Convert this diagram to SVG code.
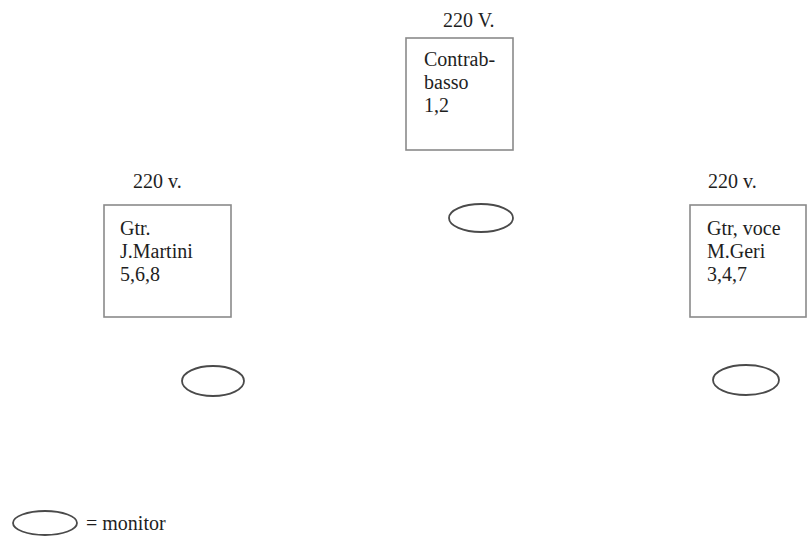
<svg xmlns="http://www.w3.org/2000/svg" width="807" height="545" viewBox="0 0 807 545">
<style>
.box{fill:#fff;stroke:#8a8a8a;stroke-width:1.6}
.mon{fill:none;stroke:#4a4a4a;stroke-width:1.8}
text{font-family:"Liberation Serif","Times New Roman",serif;font-size:20px;fill:#1e1e1e}
</style>
<rect width="807" height="545" fill="#fff"/>
<g id="contrabbasso">
<text x="443" y="27">220 V.</text>
<rect class="box" x="406" y="38" width="107" height="112"/>
<text x="424" y="66">Contrab-</text>
<text x="424" y="89">basso</text>
<text x="424" y="112">1,2</text>
</g>
<g id="martini">
<text x="133" y="188">220 v.</text>
<rect class="box" x="104" y="205" width="127" height="112"/>
<text x="120" y="235">Gtr.</text>
<text x="120" y="258">J.Martini</text>
<text x="120" y="281">5,6,8</text>
</g>
<g id="geri">
<text x="708" y="188">220 v.</text>
<rect class="box" x="690" y="205" width="116" height="112"/>
<text x="707" y="235">Gtr, voce</text>
<text x="707" y="258">M.Geri</text>
<text x="707" y="281">3,4,7</text>
</g>
<g id="monitor-center"><ellipse class="mon" cx="481" cy="218" rx="32" ry="14"/></g>
<g id="monitor-left"><ellipse class="mon" cx="213" cy="381" rx="31" ry="15"/></g>
<g id="monitor-right"><ellipse class="mon" cx="746" cy="380" rx="33" ry="15"/></g>
<g id="legend">
<ellipse class="mon" cx="45" cy="523" rx="32" ry="12"/>
<text x="86" y="530">= monitor</text>
</g>
<g id="connectors"></g>
</svg>
